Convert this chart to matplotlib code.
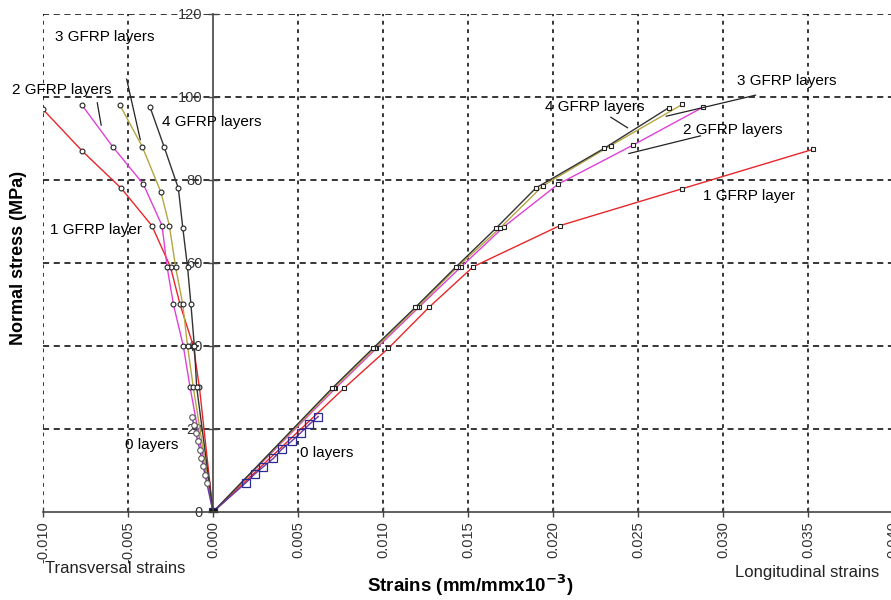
"""
Normal stress vs strains for GFRP wrapped specimens
(transversal strains on the negative side, longitudinal on the positive side)
"""
import matplotlib
matplotlib.use('Agg')
import matplotlib.pyplot as plt

plt.rcParams['font.family'] = ['Liberation Sans', 'DejaVu Sans']

# ---- data ----
# transversal strains (negative side)
stress_t = [0, 30, 40, 50, 59, 69, 78, 87, 97]
trans_1 = [0, -0.0008, -0.00116, -0.00194, -0.0025, -0.0036, -0.0054, -0.0077, -0.0100]
stress_t2 = [0, 30, 40, 50, 59, 69, 79, 88, 98]
trans_2 = [0, -0.00135, -0.00175, -0.00233, -0.0027, -0.0030, -0.0041, -0.0059, -0.0077]
stress_t3 = [0, 30, 40, 50, 59, 69, 77, 88, 98]
trans_3 = [0, -0.00116, -0.0015, -0.00178, -0.0022, -0.00257, -0.00306, -0.00416, -0.00547]
stress_t4 = [0, 30, 40, 50, 59, 68.5, 78, 88, 97.5]
trans_4 = [0, -0.00096, -0.0011, -0.0013, -0.0015, -0.00178, -0.00204, -0.00288, -0.0037]
stress_t0 = [0, 7, 9, 11, 13, 15, 17, 19, 21, 23]
trans_0 = [0, -0.00037, -0.00047, -0.00058, -0.00068, -0.00078, -0.00089,
           -0.00101, -0.00113, -0.00125]

# longitudinal strains (positive side)
stress_l1 = [0, 29.8, 39.4, 49.3, 59.1, 69, 77.9, 87.4]
long_1 = [0, 0.0077, 0.0103, 0.0127, 0.0153, 0.0204, 0.0276, 0.0353]
stress_l2 = [0, 29.8, 39.4, 49.3, 59.1, 68.7, 79, 88.4, 97.5]
long_2 = [0, 0.0072, 0.0096, 0.0121, 0.0146, 0.0171, 0.0203, 0.0247, 0.0288]
stress_l3 = [0, 29.8, 39.4, 49.3, 59.1, 68.5, 78.6, 88.3, 98.2]
long_3 = [0, 0.0071, 0.0095, 0.0120, 0.0144, 0.0169, 0.0194, 0.0234, 0.0276]
stress_l4 = [0, 29.8, 39.4, 49.3, 59.1, 68.4, 78.1, 87.6, 97.4]
long_4 = [0, 0.0070, 0.0094, 0.0119, 0.0143, 0.01665, 0.0190, 0.0230, 0.0268]
stress_l0 = [0, 7.06, 9.2, 10.9, 12.9, 15.1, 17.1, 19.1, 21.1, 23.0]
long_0 = [0, 0.00194, 0.00247, 0.00296, 0.00355, 0.00404, 0.00463, 0.00516,
          0.00566, 0.00619]

x_ticks = [-0.010, -0.005, 0.000, 0.005, 0.010, 0.015, 0.020, 0.025, 0.030,
           0.035, 0.040]
y_ticks = [0, 20, 40, 60, 80, 100, 120]

c_red = '#e8262a'
c_mag = '#e040d8'
c_oli = '#b5a642'
c_blk = '#333333'
c_zero = '#6a3aa0'

fig = plt.figure(figsize=(8.91, 6), dpi=100)
ax = fig.add_axes([0.0483, 0.1467, 0.954, 0.83])

mk = dict(markersize=3.5, markerfacecolor='white', markeredgecolor='#222222',
          markeredgewidth=0.8, linewidth=1.0)

# transversal side
ax.plot(trans_1, stress_t, '-o', color=c_red, **mk)
ax.plot(trans_2, stress_t2, '-o', color=c_mag, **mk)
ax.plot(trans_3, stress_t3, '-o', color=c_oli, **mk)
ax.plot(trans_4, stress_t4, '-o', color=c_blk, **mk)
ax.plot(trans_0, stress_t0, '-o', color=c_zero, markersize=4,
        markerfacecolor='white', markeredgecolor='#555555',
        markeredgewidth=0.8, linewidth=1.0)

# longitudinal side
ax.plot(long_1, stress_l1, '-s', color=c_red, **mk)
ax.plot(long_2, stress_l2, '-s', color=c_mag, **mk)
ax.plot(long_3, stress_l3, '-s', color=c_oli, **mk)
ax.plot(long_4, stress_l4, '-s', color=c_blk, **mk)
ax.plot(long_0, stress_l0, '-s', color=c_zero, markersize=6,
        markerfacecolor='none', markeredgecolor='#2a2a90',
        markeredgewidth=0.9, linewidth=1.0)

# origin marker
ax.plot([0], [0], 's', color='#111111', markersize=5)

ax.set_xlim(-0.010, 0.040)
ax.set_ylim(0, 120)
ax.set_xticks(x_ticks)
ax.set_yticks(y_ticks)
ax.set_xticklabels(['%.3f' % v for v in x_ticks])
ax.set_yticklabels([str(v) for v in y_ticks])

# axes through the origin
ax.spines['left'].set_position(('data', 0))
ax.spines['bottom'].set_position(('data', 0))
ax.spines['top'].set_visible(False)
ax.spines['right'].set_visible(False)
for s in ['left', 'bottom']:
    ax.spines[s].set_color('#444444')
    ax.spines[s].set_linewidth(1.2)
ax.tick_params(direction='inout', length=7, width=1, colors='#444444',
               labelcolor='#333333', labelsize=10.5)
ax.tick_params(axis='x', labelrotation=90, pad=3)
ax.tick_params(axis='y', pad=4)

# dashed grid
for xv in x_ticks:
    if xv != 0:
        ax.axvline(xv, color='black', lw=1.1, ls=(0, (2.5, 3)), zorder=0)
for yv in y_ticks:
    if yv != 0:
        ax.axhline(yv, color='black', lw=1.1, ls=(0, (4, 3)), zorder=0)

# curve labels
fs = 11
ax.text(-0.00929, 114.5, '3 GFRP layers', fontsize=fs, va='center')
ax.text(-0.01182, 101.7, '2 GFRP layers', fontsize=fs, va='center')
ax.text(-0.0030, 94, '4 GFRP layers', fontsize=fs, va='center')
ax.text(-0.00959, 68, '1 GFRP layer', fontsize=fs, va='center')
ax.text(-0.00518, 16.1, '0 layers', fontsize=fs, va='center')
ax.text(0.00512, 14.2, '0 layers', fontsize=fs, va='center')
ax.text(0.01953, 97.6, '4 GFRP layers', fontsize=fs, va='center')
ax.text(0.03082, 103.9, '3 GFRP layers', fontsize=fs, va='center')
ax.text(0.02765, 92, '2 GFRP layers', fontsize=fs, va='center')
ax.text(0.02882, 76.1, '1 GFRP layer', fontsize=fs, va='center')

# leader lines
leaders = [((-0.00512, 105), (-0.00424, 89)),
           ((-0.00684, 99.3), (-0.00655, 92.5)),
           ((0.02325, 95.5), (0.02453, 92.2)),
           ((0.03208, 100.6), (0.02649, 95.2)),
           ((0.02884, 90.8), (0.02429, 86.2))]
for p0, p1 in leaders:
    ax.annotate('', xy=p1, xytext=p0,
                arrowprops=dict(arrowstyle='-', color='#222222', lw=0.9))

fig.text(0.0205, 0.57, 'Normal stress (MPa)', rotation=90, fontsize=13,
         fontweight='bold', ha='center', va='center')
fig.text(0.528, 0.025, r'Strains (mm/mmx10$^{\mathbf{-3}}$)', fontsize=13.5,
         fontweight='bold', ha='center', va='center')
fig.text(0.051, 0.053, 'Transversal strains', fontsize=12, va='center',
         color='#222222')
fig.text(0.825, 0.045, 'Longitudinal strains', fontsize=12, va='center',
         color='#222222')

fig.savefig('out.png', dpi=100)
